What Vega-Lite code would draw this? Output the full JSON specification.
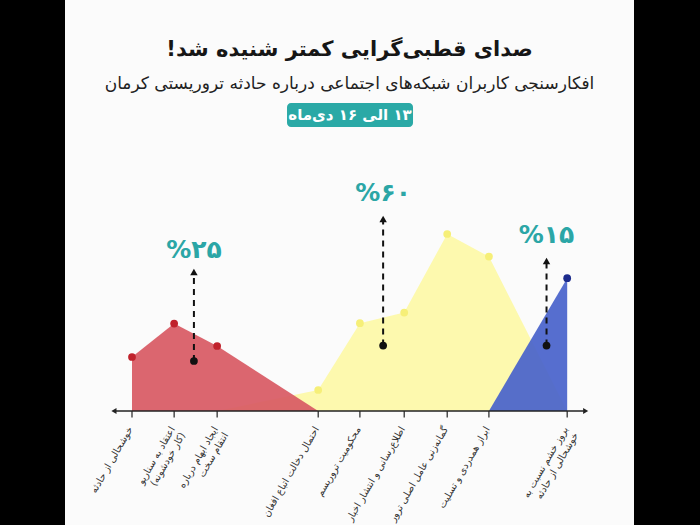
{
  "$schema": "https://vega.github.io/schema/vega-lite/v6.json",
  "width": 569,
  "height": 525,
  "autosize": {"type": "none"},
  "padding": {"left": 65, "right": 66, "top": 0, "bottom": 0},
  "background": "#000000",
  "config": {"view": {"fill": "#fbfbfb", "stroke": null}, "font": "DejaVu Sans"},
  "title": {
    "text": "صدای قطبی‌گرایی کمتر شنیده شد!\u200f",
    "subtitle": "افکارسنجی کاربران شبکه‌های اجتماعی درباره حادثه تروریستی کرمان",
    "anchor": "middle",
    "offset": -92,
    "font": "DejaVu Sans",
    "fontSize": 21,
    "fontWeight": "bold",
    "color": "#161616",
    "subtitleFont": "DejaVu Sans",
    "subtitleFontSize": 17,
    "subtitleColor": "#222222",
    "subtitlePadding": 16
  },
  "datasets": {
    "series": [
      {"series": "red", "u": 0, "v": 27},
      {"series": "red", "u": 0.98, "v": 43.7},
      {"series": "red", "u": 1.98, "v": 32.5},
      {"series": "red", "u": 4.33, "v": 0},
      {"series": "yellow", "u": 1.98, "v": 0},
      {"series": "yellow", "u": 4.33, "v": 10.5},
      {"series": "yellow", "u": 5.3, "v": 43.9},
      {"series": "yellow", "u": 6.33, "v": 49.2},
      {"series": "yellow", "u": 7.33, "v": 88.5},
      {"series": "yellow", "u": 8.3, "v": 77.2},
      {"series": "yellow", "u": 10.12, "v": 0},
      {"series": "blue", "u": 8.3, "v": 0},
      {"series": "blue", "u": 10.12, "v": 66.4}
    ],
    "categories": [
      {"u": 0, "label": "خوشحالی از حادثه"},
      {"u": 0.98, "label": "اعتقاد به سناریو\n(کار خودشونه)"},
      {"u": 1.98, "label": "ایجاد ابهام درباره\nانتقام سخت"},
      {"u": 4.33, "label": "احتمال دخالت اتباع افغان"},
      {"u": 5.3, "label": "محکومیت تروریسم"},
      {"u": 6.33, "label": "اطلاع‌رسانی و انتشار اخبار"},
      {"u": 7.33, "label": "گمانه‌زنی عامل اصلی ترور"},
      {"u": 8.3, "label": "ابراز همدردی و تسلیت"},
      {"u": 10.12, "label": "بروز خشم نسبت به\nخوشحالی از حادثه"}
    ],
    "notes": [
      {"u": 1.44, "dot": 25, "top": 69.5, "labelV": 80.5, "label": "%۲۵"},
      {"u": 5.84, "dot": 32.7, "top": 96, "labelV": 109, "label": "%۶۰"},
      {"u": 9.64, "dot": 32.7, "top": 75, "labelV": 88, "label": "%۱۵"}
    ],
    "ends": [
      {"u": -0.42, "shape": "triangle-left"},
      {"u": 10.55, "shape": "triangle-right"}
    ],
    "badge": [
      {"label": "\u200f۱۳ الی ۱۶ دی‌ماه"}
    ]
  },
  "layer": [
    {
      "data": {"name": "series"},
      "transform": [{"filter": "datum.series === 'yellow'"}],
      "mark": {"type": "area", "color": "#fdf9ae", "opacity": 1},
      "encoding": {
        "x": {"field": "u", "type": "quantitative", "scale": {"domain": [-1.558, 11.674], "nice": false, "zero": false}, "axis": null},
        "y": {"field": "v", "type": "quantitative", "scale": {"domain": [-57, 205.5], "nice": false, "zero": false}, "axis": null}
      }
    },
    {
      "data": {"name": "series"},
      "transform": [{"filter": "datum.series === 'red'"}],
      "mark": {"type": "area", "color": "#d85a64", "opacity": 0.93},
      "encoding": {
        "x": {"field": "u", "type": "quantitative"},
        "y": {"field": "v", "type": "quantitative"}
      }
    },
    {
      "data": {"name": "series"},
      "transform": [{"filter": "datum.series === 'blue'"}],
      "mark": {"type": "area", "color": "#4963cb", "opacity": 0.93},
      "encoding": {
        "x": {"field": "u", "type": "quantitative"},
        "y": {"field": "v", "type": "quantitative"}
      }
    },
    {
      "data": {"values": [{}]},
      "mark": {"type": "rule", "color": "#222222", "strokeWidth": 1.5},
      "encoding": {
        "x": {"datum": -0.4, "type": "quantitative"},
        "x2": {"datum": 10.5},
        "y": {"datum": 0, "type": "quantitative"}
      }
    },
    {
      "data": {"name": "ends"},
      "mark": {"type": "point", "filled": true, "color": "#222222", "size": 35, "opacity": 1},
      "encoding": {
        "x": {"field": "u", "type": "quantitative"},
        "y": {"datum": 0, "type": "quantitative"},
        "shape": {"field": "shape", "type": "nominal", "scale": null}
      }
    },
    {
      "data": {"name": "categories"},
      "mark": {"type": "rule", "color": "#222222", "strokeWidth": 1.2},
      "encoding": {
        "x": {"field": "u", "type": "quantitative"},
        "y": {"datum": 0, "type": "quantitative"},
        "y2": {"datum": -3.2}
      }
    },
    {
      "data": {"name": "categories"},
      "mark": {"type": "text", "angle": -60, "align": "right", "baseline": "top", "dx": -15, "dy": 2, "lineBreak": "\n", "fontSize": 9.8, "color": "#333333", "font": "DejaVu Sans"},
      "encoding": {
        "x": {"field": "u", "type": "quantitative"},
        "y": {"datum": 0, "type": "quantitative"},
        "text": {"field": "label"}
      }
    },
    {
      "data": {"name": "series"},
      "transform": [{"filter": "datum.v > 0"}],
      "mark": {"type": "circle", "size": 60, "opacity": 1},
      "encoding": {
        "x": {"field": "u", "type": "quantitative"},
        "y": {"field": "v", "type": "quantitative"},
        "color": {"field": "series", "type": "nominal", "scale": {"domain": ["red", "yellow", "blue"], "range": ["#c0222c", "#f6ef78", "#1c2b8c"]}, "legend": null}
      }
    },
    {
      "data": {"name": "notes"},
      "mark": {"type": "rule", "color": "#111111", "strokeWidth": 2, "strokeDash": [6, 5]},
      "encoding": {
        "x": {"field": "u", "type": "quantitative"},
        "y": {"field": "dot", "type": "quantitative"},
        "y2": {"field": "top"}
      }
    },
    {
      "data": {"name": "notes"},
      "mark": {"type": "point", "shape": "triangle-up", "filled": true, "color": "#111111", "size": 55, "opacity": 1},
      "encoding": {
        "x": {"field": "u", "type": "quantitative"},
        "y": {"field": "top", "type": "quantitative"}
      }
    },
    {
      "data": {"name": "notes"},
      "mark": {"type": "circle", "color": "#111111", "size": 60, "opacity": 1},
      "encoding": {
        "x": {"field": "u", "type": "quantitative"},
        "y": {"field": "dot", "type": "quantitative"}
      }
    },
    {
      "data": {"name": "notes"},
      "mark": {"type": "text", "fontSize": 25, "fontWeight": "bold", "color": "#2ba6a6", "baseline": "middle", "align": "center", "font": "DejaVu Sans"},
      "encoding": {
        "x": {"field": "u", "type": "quantitative"},
        "y": {"field": "labelV", "type": "quantitative"},
        "text": {"field": "label"}
      }
    },
    {
      "data": {"name": "badge"},
      "mark": {"type": "rect", "color": "#2aa9a6", "cornerRadius": 4},
      "encoding": {
        "x": {"datum": 3.605, "type": "quantitative"},
        "x2": {"datum": 6.535},
        "y": {"datum": 154, "type": "quantitative"},
        "y2": {"datum": 142}
      }
    },
    {
      "data": {"name": "badge"},
      "mark": {"type": "text", "color": "#ffffff", "fontSize": 15, "fontWeight": "bold", "baseline": "middle", "align": "center", "font": "DejaVu Sans"},
      "encoding": {
        "x": {"datum": 5.07, "type": "quantitative"},
        "y": {"datum": 148, "type": "quantitative"},
        "text": {"field": "label"}
      }
    }
  ]
}
